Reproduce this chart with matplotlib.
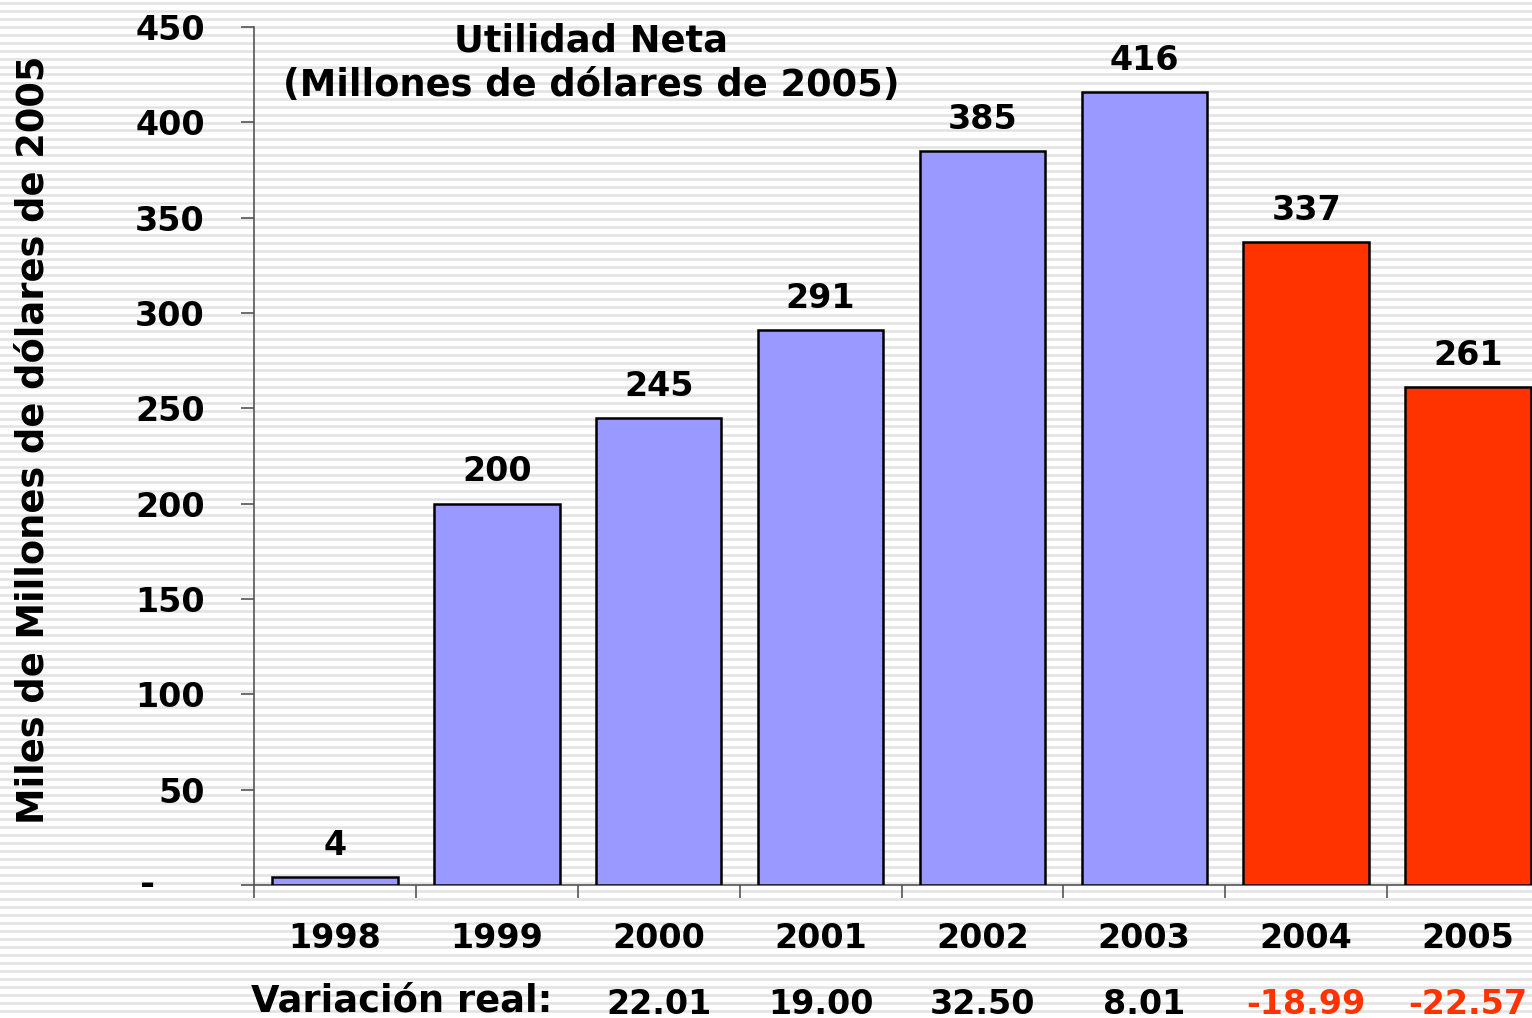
import matplotlib
matplotlib.use("Agg")
import matplotlib.pyplot as plt
from matplotlib.lines import Line2D
import matplotlib.transforms as mtransforms
import numpy as np

years = ["1998", "1999", "2000", "2001", "2002", "2003", "2004", "2005"]
values = [4, 200, 245, 291, 385, 416, 337, 261]
bar_colors = ["#9999ff"] * 6 + ["#ff3300"] * 2
var_years = ["2000", "2001", "2002", "2003", "2004", "2005"]
variation = ["22.01", "19.00", "32.50", "8.01", "-18.99", "-22.57"]
var_colors = ["#000000"] * 4 + ["#ff3300"] * 2
yticks = [0, 50, 100, 150, 200, 250, 300, 350, 400, 450]
ytick_labels = ["", "50", "100", "150", "200", "250", "300", "350", "400", "450"]

W, H = 1532, 1018
fig = plt.figure(figsize=(W / 100, H / 100), dpi=100)
fig.patch.set_facecolor("white")

# striped background
for yp in np.arange(2.5, H, 8):
    fig.add_artist(Line2D([0, 1], [1 - yp / H, 1 - yp / H], transform=fig.transFigure,
                          color="#e2e2e2", lw=1.8, zorder=-10))

left = 254 / W
bottom = (H - 885) / H
width = (1549 - 254) / W
height = (885 - 27) / H
ax = fig.add_axes([left, bottom, width, height])
ax.patch.set_alpha(0)

x = np.arange(len(years))
bars = ax.bar(x, values, width=0.775, color=bar_colors, edgecolor="black", linewidth=1.8, zorder=3)
ax.set_xlim(-0.5, len(years) - 0.5)
ax.set_ylim(0, 450)

for s in ["top", "right"]:
    ax.spines[s].set_visible(False)
for s in ["left", "bottom"]:
    ax.spines[s].set_color("#555555")
    ax.spines[s].set_linewidth(1.2)

fs = 24
fs_t = 26.5
ax.set_yticks(yticks)
ax.set_yticklabels(ytick_labels, fontsize=fs, fontweight="bold")
ax.tick_params(axis="y", length=9.5, width=1.2, color="#555555", pad=26)
ax.text(-(254 - 148) / (1549 - 254), 0, "-", transform=mtransforms.blended_transform_factory(ax.transAxes, ax.transData),
        fontsize=fs + 2, fontweight="bold", ha="center", va="center")

ax.set_xticks(x)
ax.set_xticklabels(years, fontsize=fs, fontweight="bold")
ax.set_xticks(np.arange(-0.5, len(years)), minor=True)
ax.tick_params(axis="x", which="major", length=0, pad=27)
ax.tick_params(axis="x", which="minor", length=9, width=1.2, color="#555555")

for xi, v in zip(x, values):
    ax.annotate(f"{v}", (xi, v), xytext=(0, 16), textcoords="offset points",
                ha="center", va="baseline", fontsize=fs, fontweight="bold")

fig.text(591 / W, 1 - 52 / H, "Utilidad Neta", ha="center", va="baseline", fontsize=fs_t, fontweight="bold")
fig.text(591 / W, 1 - 96 / H, "(Millones de dólares de 2005)", ha="center", va="baseline", fontsize=fs_t, fontweight="bold")

fig.text(33 / W, 1 - 440 / H, "Miles de Millones de dólares de 2005", rotation=90,
         ha="center", va="center", fontsize=fs_t, fontweight="bold")

trans = mtransforms.blended_transform_factory(ax.transData, fig.transFigure)
ax.text(-0.52, 1 - 1012 / H, "Variación real:", transform=trans, ha="left", va="baseline",
        fontsize=fs_t, fontweight="bold", clip_on=False)
for yr, txt, c in zip(var_years, variation, var_colors):
    xi = years.index(yr)
    ax.text(xi, 1 - 1014 / H, txt, transform=trans, ha="center", va="baseline",
            fontsize=fs, fontweight="bold", color=c, clip_on=False)

fig.savefig("out.png", dpi=100)
